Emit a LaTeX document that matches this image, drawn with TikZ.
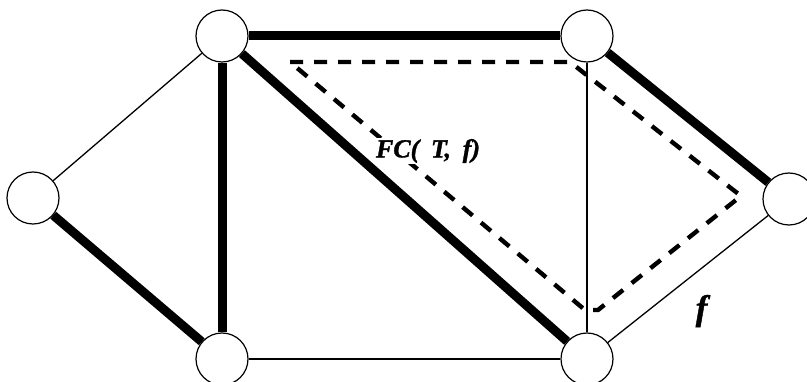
\documentclass[tikz,border=0pt]{standalone}
\usepackage{fontspec}
\setmainfont{Liberation Serif}
\newfontfamily\labelfont{Liberation Serif}[WordSpace=1.8, BoldItalicFeatures={FakeBold=1.2}]
\usepackage{tikz}
\usetikzlibrary{positioning,backgrounds}

\begin{document}
\begin{tikzpicture}[x=1pt, y=-1pt,
  vertex/.style={circle, draw, fill=white, line width=1.2pt, minimum size=52pt, inner sep=0pt},
  heavy/.style={line width=9pt},
  light/.style={line width=1.3pt},
  cut/.style={line width=4.4pt, dash pattern=on 13pt off 11pt},
  lbl/.style={inner sep=1pt}]
  \clip (0,0) rectangle (807,382);

  % vertices
  \node[vertex] (l)  at (33,198)  {};
  \node[vertex] (tl) at (222,36)  {};
  \node[vertex] (bl) at (222,359) {};
  \node[vertex] (tr) at (587,36)  {};
  \node[vertex] (br) at (587,359) {};
  \node[vertex] (r)  at (789,199) {};

  % tree edges and the rest, behind the vertices
  \begin{pgfonlayer}{background}
  \draw[light] (l) -- (tl);
  \draw[heavy] (l) -- (bl);
  \draw[heavy] (tl) -- (bl);
  \draw[heavy] (tl) -- (tr);
  \draw[heavy] (tl) -- (br);
  \draw[light] (tr) -- (br);
  \draw[heavy] (tr) -- (r);
  \draw[light] (bl) -- (br);
  \draw[light] (br) -- (r);
  \end{pgfonlayer}

  % fundamental cycle
  \draw[cut] (290,62) -- (570,62) -- (741,196) -- (598,310) -- (585,310) -- cycle;
  \node[lbl, fill=white] (fc) at (428,151) {\labelfont\fontsize{26}{26}\selectfont\textbf{\textit{FC( T, f)}}};
  \node[lbl] (f) at (703,311) {\labelfont\fontsize{35}{35}\selectfont\textbf{\textit{f}}};
\end{tikzpicture}
\end{document}
